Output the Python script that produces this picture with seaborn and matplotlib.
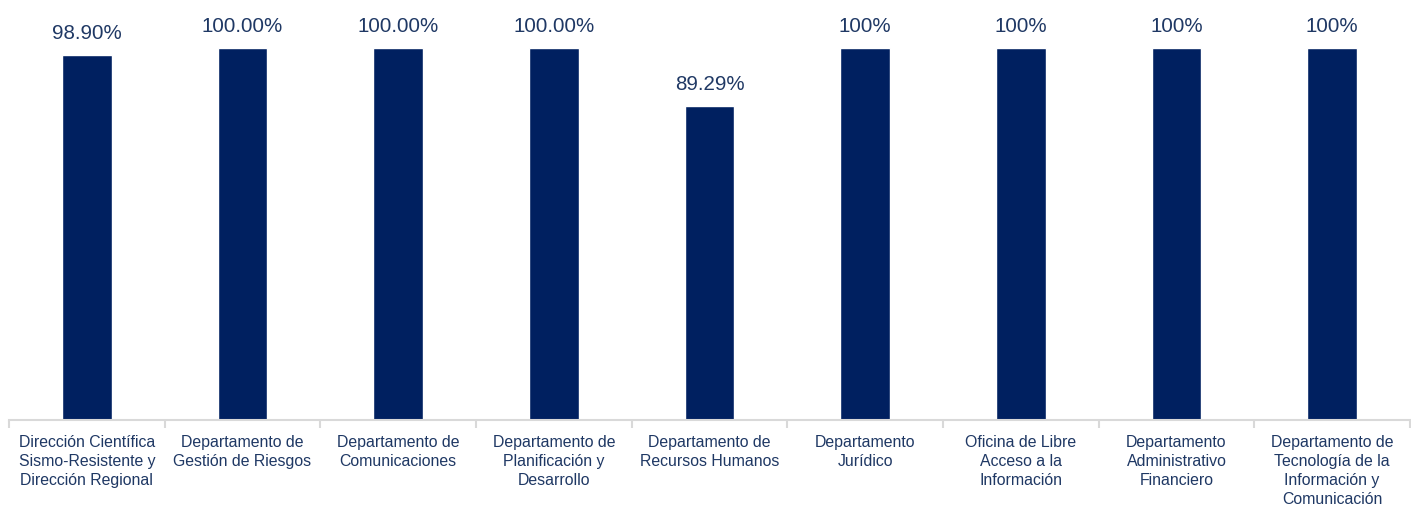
import matplotlib
matplotlib.use("Agg")
import matplotlib.pyplot as plt
import seaborn as sns
import pandas as pd
import numpy as np

categories = [
    "Dirección Científica\nSismo-Resistente y\nDirección Regional",
    "Departamento de\nGestión de Riesgos",
    "Departamento de\nComunicaciones",
    "Departamento de\nPlanificación y\nDesarrollo",
    "Departamento de\nRecursos Humanos",
    "Departamento\nJurídico",
    "Oficina de Libre\nAcceso a la\nInformación",
    "Departamento\nAdministrativo\nFinanciero",
    "Departamento de\nTecnología de la\nInformación y\nComunicación",
]
values = [98.1, 100, 100, 100, 84.4, 100, 100, 100, 100]
value_labels = ["98.90%", "100.00%", "100.00%", "100.00%", "89.29%",
                "100%", "100%", "100%", "100%"]

sns.set_theme(style="white")
plt.rcParams['font.family'] = ['Liberation Sans', 'DejaVu Sans']

navy = "#002060"
text_col = "#1F3864"

df = pd.DataFrame({"cat": categories, "val": values})

fig = plt.figure(figsize=(14.11, 5.07), dpi=100)
ax = fig.add_axes([9/1411, 87/507, 1401/1411, 420/507])
sns.barplot(data=df, x="cat", y="val", color=navy, width=0.32, saturation=1, ax=ax)

ax.set_xlim(-0.5, len(categories) - 0.5)
ax.set_ylim(0, 100 * 420 / 372)
ax.set_xlabel("")
ax.set_ylabel("")
ax.set_yticks([])
for s in ["top", "right", "left"]:
    ax.spines[s].set_visible(False)
ax.spines["bottom"].set_color("#D9D9D9")
ax.spines["bottom"].set_linewidth(1.5)

ax.set_xticks(range(len(categories)))
ax.set_xticklabels(categories, fontsize=11.4, color=text_col, linespacing=1.34, va="top")
ax.tick_params(axis="x", which="major", length=0, pad=10.5)
ax.set_xticks(np.arange(-0.5, len(categories), 1.0), minor=True)
ax.tick_params(axis="x", which="minor", length=6, width=1.5, color="#D9D9D9", bottom=True)

for bar, lab in zip(ax.patches, value_labels):
    ax.annotate(lab, (bar.get_x() + bar.get_width() / 2, bar.get_height()),
                xytext=(0, 8.5), textcoords="offset points", ha="center", va="bottom",
                fontsize=14.8, color=text_col)

fig.savefig("out.png", dpi=100)
